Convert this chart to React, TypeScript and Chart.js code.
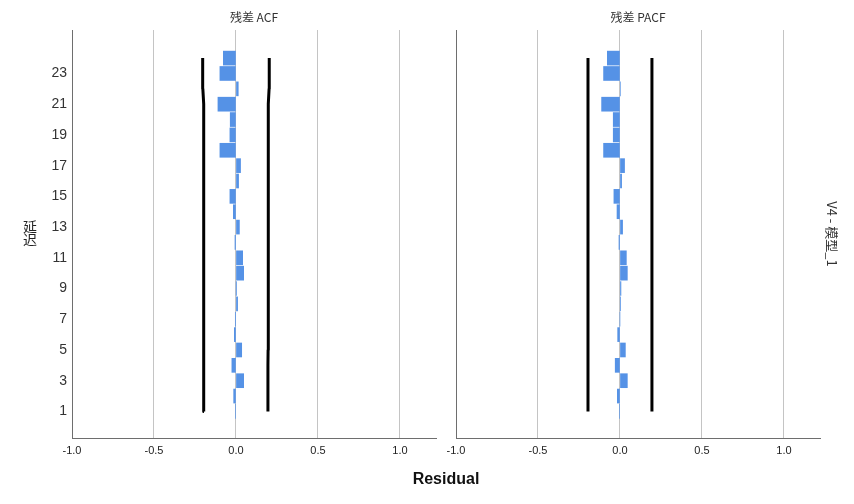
import React, { useEffect, useRef } from 'react';
import { Chart, registerables } from 'chart.js';

Chart.register(...registerables);

// ---- data ----
const lags = [1, 2, 3, 4, 5, 6, 7, 8, 9, 10, 11, 12, 13, 14, 15, 16, 17, 18, 19, 20, 21, 22, 23, 24];
const acfValues = [-0.003, -0.014, 0.047, -0.025, 0.035, -0.010, -0.004, 0.010, 0.001, 0.047, 0.041, -0.006, 0.021, -0.016, -0.037, 0.016, 0.028, -0.098, -0.037, -0.035, -0.110, 0.014, -0.098, -0.077];
const pacfValues = [-0.003, -0.016, 0.045, -0.029, 0.033, -0.014, 0.000, 0.002, 0.006, 0.045, 0.039, -0.006, 0.016, -0.018, -0.037, 0.010, 0.028, -0.100, -0.041, -0.041, -0.112, 0.003, -0.100, -0.077];
const acfLimits = [0.195, 0.195, 0.195, 0.195, 0.196, 0.196, 0.196, 0.196, 0.196, 0.196, 0.196, 0.197, 0.197, 0.197, 0.197, 0.197, 0.197, 0.197, 0.199, 0.200, 0.200, 0.202, 0.202, 0.204];
const pacfLimits = [0.195, 0.195, 0.195, 0.195, 0.195, 0.195, 0.195, 0.195, 0.195, 0.195, 0.195, 0.195, 0.195, 0.195, 0.195, 0.195, 0.195, 0.195, 0.195, 0.195, 0.195, 0.195, 0.195, 0.195];
const lagTicks = [1, 3, 5, 7, 9, 11, 13, 15, 17, 19, 21, 23];
const xTicks = [-1.0, -0.5, 0.0, 0.5, 1.0];
const panelTitles = ['残差 ACF', '残差 PACF'];
const yTitle = '延迟';
const xTitle = 'Residual';
const sideLabel = 'V4 - 模型_1';

const W = 854;
const H = 504;
const FONT = '"Liberation Sans", Arial, "Noto Sans CJK SC", sans-serif';
const CJK = '"Noto Sans CJK SC", "Liberation Sans", sans-serif';
const BAR = '#5592E6';

function makeConfig(values: number[], limits: number[], title: string, isLeft: boolean): any {
  const textPlugin = {
    id: 'texts' + (isLeft ? 'L' : 'R'),
    afterDraw(chart: any) {
      const ctx = chart.ctx;
      const a = chart.chartArea;
      ctx.save();
      ctx.fillStyle = '#333';
      ctx.textAlign = 'center';
      ctx.textBaseline = 'middle';
      ctx.font = '12px ' + CJK;
      ctx.fillText(title, (a.left + a.right) / 2, 17);
      if (isLeft) {
        ctx.font = '14px ' + CJK;
        ctx.fillStyle = '#222';
        const chars = Array.from(yTitle);
        chars.forEach((c, i) => ctx.fillText(c, 30, 227 + i * 13));
        ctx.font = 'bold 16px ' + FONT;
        ctx.fillStyle = '#111';
        ctx.fillText(xTitle, 446, 480);
      } else {
        ctx.translate(832, (a.top + a.bottom) / 2);
        ctx.rotate(Math.PI / 2);
        ctx.font = '13px ' + CJK;
        ctx.fillStyle = '#333';
        ctx.fillText(sideLabel, 0, 0);
      }
      ctx.restore();
    },
  };

  return {
    type: 'bar',
    data: {
      datasets: [
        {
          type: 'bar',
          data: values.map((v, i) => ({ x: v, y: lags[i] })),
          backgroundColor: BAR,
          borderWidth: 0,
          barThickness: 14,
          order: 2,
        },
        {
          type: 'line',
          data: limits.map((v, i) => ({ x: -v, y: lags[i] })),
          borderColor: '#000',
          borderWidth: 3,
          borderJoinStyle: 'round',
          pointRadius: 0,
          fill: false,
          tension: 0,
          order: 1,
        },
        {
          type: 'line',
          data: limits.map((v, i) => ({ x: v, y: lags[i] })),
          borderColor: '#000',
          borderWidth: 3,
          borderJoinStyle: 'round',
          pointRadius: 0,
          fill: false,
          tension: 0,
          order: 1,
        },
      ],
    },
    options: {
      indexAxis: 'y',
      animation: false,
      responsive: false,
      devicePixelRatio: 1,
      layout: {
        padding: isLeft
          ? { left: 0, top: 30, right: W - 436, bottom: 0 }
          : { left: 440, top: 30, right: W - 820, bottom: 0 },
      },
      plugins: {
        legend: { display: false },
        tooltip: { enabled: false },
        title: { display: false },
      },
      scales: {
        x: {
          type: 'linear',
          position: 'bottom',
          offset: false,
          min: -1,
          max: 1.22,
          afterBuildTicks: (s: any) => {
            s.ticks = xTicks.map((v) => ({ value: v }));
          },
          afterFit: (s: any) => {
            s.height = H - 438;
          },
          grid: {
            offset: false,
            drawTicks: false,
            color: (c: any) => (c.tick && c.tick.value === -1 ? 'rgba(0,0,0,0)' : '#c4c4c4'),
            lineWidth: 1,
          },
          border: { display: true, color: '#6e6e6e', width: 1 },
          ticks: {
            padding: 6,
            color: '#222',
            font: { family: FONT, size: 11 },
            callback: (v: any) => Number(v).toFixed(1),
          },
        },
        y: {
          type: 'linear',
          position: 'left',
          offset: false,
          min: -0.73,
          max: 25.83,
          afterBuildTicks: (s: any) => {
            s.ticks = lagTicks.map((v) => ({ value: v }));
          },
          afterFit: (s: any) => {
            s.width = isLeft ? 72 : 16;
          },
          grid: { display: false, drawTicks: false, offset: false },
          border: { display: true, color: '#6e6e6e', width: 1 },
          ticks: {
            display: isLeft,
            padding: 5,
            color: '#333',
            font: { family: FONT, size: 14 },
          },
        },
      },
    },
    plugins: [textPlugin],
  };
}

function Panel({ values, limits, title, isLeft }: { values: number[]; limits: number[]; title: string; isLeft: boolean }) {
  const ref = useRef<HTMLCanvasElement | null>(null);
  useEffect(() => {
    if (!ref.current) return;
    const chart = new Chart(ref.current, makeConfig(values, limits, title, isLeft));
    return () => chart.destroy();
  }, []);
  return (
    <canvas
      ref={ref}
      width={W}
      height={H}
      style={{ position: 'absolute', left: 0, top: 0, width: W, height: H }}
    />
  );
}

export default function App() {
  return (
    <div style={{ position: 'absolute', left: 0, top: 0, width: W, height: H, background: '#fff' }}>
      <Panel values={acfValues} limits={acfLimits} title={panelTitles[0]} isLeft={true} />
      <Panel values={pacfValues} limits={pacfLimits} title={panelTitles[1]} isLeft={false} />
    </div>
  );
}
